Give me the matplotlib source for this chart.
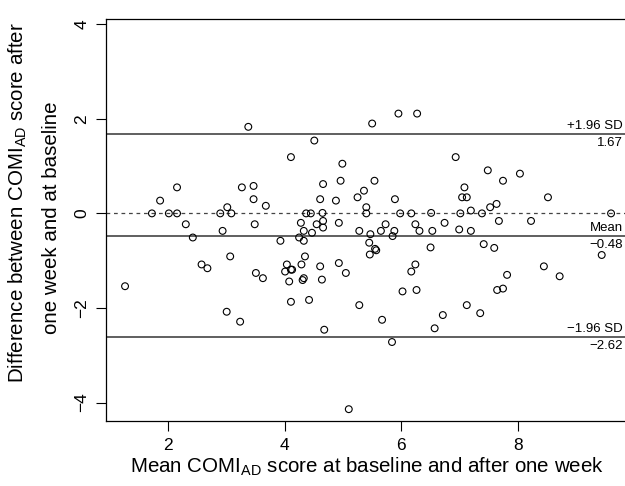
import matplotlib
matplotlib.use("Agg")
import matplotlib.pyplot as plt
import matplotlib.transforms as mtransforms

plt.rcParams['font.family'] = ['Liberation Sans', 'DejaVu Sans']
plt.rcParams['mathtext.default'] = 'regular'

# mean of the two scores (x) and difference (y)
mean_score = [1.27, 1.73, 1.87, 2.02, 2.16, 2.16, 2.31, 2.43, 2.58, 2.68,
              2.90, 2.94, 3.02, 3.01, 3.07, 3.09, 3.24, 3.27, 3.38, 3.47,
              3.47, 3.49, 3.51, 3.63, 3.68, 3.93, 4.01, 4.04, 4.08, 4.11,
              4.11, 4.13, 4.11, 4.25, 4.28, 4.29, 4.31, 4.33, 4.33, 4.33,
              4.35, 4.37, 4.42, 4.45, 4.47, 4.51, 4.55, 4.61, 4.61, 4.64,
              4.65, 4.66, 4.66, 4.66, 4.68, 4.88, 4.93, 4.93, 4.96, 4.99,
              5.05, 5.10, 5.25, 5.28, 5.28, 5.36, 5.40, 5.40, 5.45, 5.46,
              5.47, 5.50, 5.54, 5.55, 5.57, 5.65, 5.67, 5.73, 5.84, 5.85,
              5.88, 5.89, 5.95, 5.98, 6.02, 6.17, 6.17, 6.24, 6.24, 6.26,
              6.27, 6.31, 6.50, 6.51, 6.53, 6.57, 6.71, 6.74, 6.93, 6.99,
              7.01, 7.04, 7.08, 7.12, 7.12, 7.19, 7.19, 7.35, 7.38, 7.41,
              7.48, 7.52, 7.59, 7.63, 7.64, 7.67, 7.74, 7.74, 7.81, 8.03,
              8.22, 8.44, 8.51, 8.71, 9.43, 9.59]
diff_score = [-1.54, 0.00, 0.27, 0.00, 0.55, 0.00, -0.23, -0.51, -1.08, -1.16,
              0.00, -0.37, 0.13, -2.08, -0.91, 0.00, -2.29, 0.55, 1.83, 0.58,
              0.30, -0.23, -1.26, -1.37, 0.16, -0.58, -1.23, -1.08, -1.44, 1.19,
              -1.19, -1.19, -1.87, -0.51, -0.20, -1.08, -1.41, -0.37, -0.58, -1.37,
              -0.91, 0.00, -1.83, 0.00, -0.41, 1.54, -0.23, 0.30, -1.12, -1.40,
              0.01, 0.62, -0.16, -0.30, -2.46, 0.27, -0.20, -1.05, 0.69, 1.05,
              -1.26, -4.14, 0.34, -0.37, -1.94, 0.48, 0.13, 0.00, -0.62, -0.87,
              -0.44, 1.90, 0.69, -0.75, -0.78, -0.37, -2.25, -0.23, -2.72, -0.48,
              -0.37, 0.30, 2.11, 0.00, -1.65, 0.00, -1.23, -0.23, -1.08, -1.62,
              2.11, -0.37, -0.72, 0.01, -0.37, -2.43, -2.15, -0.20, 1.19, -0.34,
              0.00, 0.34, 0.55, 0.34, -1.94, 0.06, -0.37, -2.11, 0.00, -0.65,
              0.91, 0.13, -0.73, 0.20, -1.62, -0.16, 0.69, -1.59, -1.30, 0.84,
              -0.16, -1.12, 0.34, -1.33, -0.88, 0.00]

mean_diff = -0.48
upper_loa = 1.67
lower_loa = -2.62
x_ticks = [2, 4, 6, 8]
y_ticks = [-4, -2, 0, 2, 4]

fig = plt.figure(figsize=(6.25, 4.86), dpi=100)
ax = fig.add_axes([106/625, 65/486, 522/625, 402/486])

ax.scatter(mean_score, diff_score, s=24, facecolors='none', edgecolors='black',
           linewidths=0.8, zorder=3)

ax.axhline(upper_loa, color='#444444', lw=1.2)
ax.axhline(mean_diff, color='#444444', lw=1.2)
ax.axhline(lower_loa, color='#444444', lw=1.2)
ax.axhline(0, color='#444444', lw=0.9, linestyle=(0, (3, 3)))

ax.set_xlim(0.944, 9.88)
ax.set_ylim(-4.39, 4.11)
ax.set_xticks(x_ticks)
ax.set_yticks(y_ticks)
ax.set_yticklabels(['\u22124', '\u22122', '0', '2', '4'], rotation=90, va='center')
ax.tick_params(direction='out', length=7, width=0.8, labelsize=12.5, pad=5)
for sp in ax.spines.values():
    sp.set_linewidth(0.9)

ax.set_xlabel('Mean COMI$_{AD}$ score at baseline and after one week', fontsize=14.8, labelpad=2)
fig.text(18/625, 1 - 203/486, 'Difference between COMI$_{AD}$ score after', rotation=90,
         ha='center', va='center', fontsize=14.8)
fig.text(52/625, 1 - 218/486, 'one week and at baseline', rotation=90,
         ha='center', va='center', fontsize=14.8)

trans = mtransforms.blended_transform_factory(fig.transFigure, ax.transData)
labels = [(upper_loa, '+1.96 SD', '1.67'),
          (mean_diff, 'Mean', '\u22120.48'),
          (lower_loa, '\u22121.96 SD', '\u22122.62')]
for yv, top, bottom in labels:
    ax.annotate(top, xy=(623/625, yv), xycoords=trans, xytext=(0, 1.5),
                textcoords='offset points', ha='right', va='bottom', fontsize=9.5)
    ax.annotate(bottom, xy=(623/625, yv), xycoords=trans, xytext=(0, -2),
                textcoords='offset points', ha='right', va='top', fontsize=9.5)

fig.savefig('out.png', dpi=100)
